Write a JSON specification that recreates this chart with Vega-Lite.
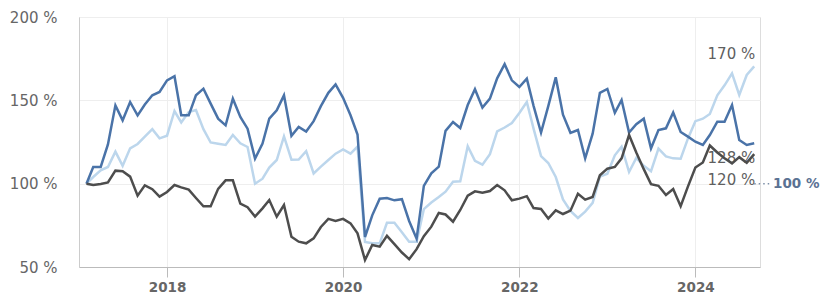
{
"$schema": "https://vega.github.io/schema/vega-lite/v6.json",
"width": 681, "height": 250,
"autosize": {"type": "none"},
"padding": {"left": 79, "top": 17, "right": 61, "bottom": 26},
"background": "white",
"config": {"view": {"stroke": "#dddddd"}, "font": "DejaVu Sans"},
"datasets": {
"a": [
{"t":"2017-02-01","v":100},{"t":"2017-03-01","v":110},{"t":"2017-04-01","v":110},{"t":"2017-05-01","v":123.5},{"t":"2017-06-01","v":147},{"t":"2017-07-01","v":138},{"t":"2017-08-01","v":149},{"t":"2017-09-01","v":141},{"t":"2017-10-01","v":147.5},{"t":"2017-11-01","v":153},{"t":"2017-12-01","v":155},
{"t":"2018-01-01","v":162},{"t":"2018-02-01","v":164.5},{"t":"2018-03-01","v":141},{"t":"2018-04-01","v":141},{"t":"2018-05-01","v":153},{"t":"2018-06-01","v":157},{"t":"2018-07-01","v":148},{"t":"2018-08-01","v":139},{"t":"2018-09-01","v":135},{"t":"2018-10-01","v":151},{"t":"2018-11-01","v":140},{"t":"2018-12-01","v":133},
{"t":"2019-01-01","v":115},{"t":"2019-02-01","v":124},{"t":"2019-03-01","v":139},{"t":"2019-04-01","v":144},{"t":"2019-05-01","v":153},{"t":"2019-06-01","v":128.7},{"t":"2019-07-01","v":134},{"t":"2019-08-01","v":131.3},{"t":"2019-09-01","v":137.5},{"t":"2019-10-01","v":146.5},{"t":"2019-11-01","v":154.5},{"t":"2019-12-01","v":159.5},
{"t":"2020-01-01","v":151.5},{"t":"2020-02-01","v":141},{"t":"2020-03-01","v":129.5},{"t":"2020-04-01","v":68},{"t":"2020-05-01","v":81},{"t":"2020-06-01","v":91},{"t":"2020-07-01","v":91.4},{"t":"2020-08-01","v":90},{"t":"2020-09-01","v":90.7},{"t":"2020-10-01","v":77.6},{"t":"2020-11-01","v":67},{"t":"2020-12-01","v":98.7},
{"t":"2021-01-01","v":106.2},{"t":"2021-02-01","v":110.2},{"t":"2021-03-01","v":131.7},{"t":"2021-04-01","v":137},{"t":"2021-05-01","v":133.4},{"t":"2021-06-01","v":147.2},{"t":"2021-07-01","v":156.7},{"t":"2021-08-01","v":145.6},{"t":"2021-09-01","v":151},{"t":"2021-10-01","v":163.2},{"t":"2021-11-01","v":171.7},{"t":"2021-12-01","v":162},
{"t":"2022-01-01","v":158},{"t":"2022-02-01","v":163},{"t":"2022-03-01","v":146.7},{"t":"2022-04-01","v":130.7},{"t":"2022-05-01","v":146.5},{"t":"2022-06-01","v":163.8},{"t":"2022-07-01","v":141.4},{"t":"2022-08-01","v":130.5},{"t":"2022-09-01","v":132.2},{"t":"2022-10-01","v":115.2},{"t":"2022-11-01","v":130},{"t":"2022-12-01","v":154.5},
{"t":"2023-01-01","v":156.8},{"t":"2023-02-01","v":142.5},{"t":"2023-03-01","v":150.2},{"t":"2023-04-01","v":130.7},{"t":"2023-05-01","v":135.7},{"t":"2023-06-01","v":139},{"t":"2023-07-01","v":121.2},{"t":"2023-08-01","v":132.2},{"t":"2023-09-01","v":133.2},{"t":"2023-10-01","v":142.7},{"t":"2023-11-01","v":131},{"t":"2023-12-01","v":128.2},
{"t":"2024-01-01","v":125.2},{"t":"2024-02-01","v":123.2},{"t":"2024-03-01","v":129.2},{"t":"2024-04-01","v":137.2},{"t":"2024-05-01","v":137.2},{"t":"2024-06-01","v":147.2},{"t":"2024-07-01","v":126.2},{"t":"2024-08-01","v":123.2},{"t":"2024-09-01","v":124.2}
],
"b": [
{"t":"2017-02-01","v":100},{"t":"2017-03-01","v":104},{"t":"2017-04-01","v":108},{"t":"2017-05-01","v":110},{"t":"2017-06-01","v":119.2},{"t":"2017-07-01","v":110.7},{"t":"2017-08-01","v":121.2},{"t":"2017-09-01","v":123.8},{"t":"2017-10-01","v":128.2},{"t":"2017-11-01","v":132.7},{"t":"2017-12-01","v":127.2},
{"t":"2018-01-01","v":128.8},{"t":"2018-02-01","v":143.6},{"t":"2018-03-01","v":136.7},{"t":"2018-04-01","v":143},{"t":"2018-05-01","v":144.2},{"t":"2018-06-01","v":132.7},{"t":"2018-07-01","v":124.7},{"t":"2018-08-01","v":123.9},{"t":"2018-09-01","v":123.2},{"t":"2018-10-01","v":129.2},{"t":"2018-11-01","v":124.2},{"t":"2018-12-01","v":122},
{"t":"2019-01-01","v":100},{"t":"2019-02-01","v":103},{"t":"2019-03-01","v":109.7},{"t":"2019-04-01","v":114.2},{"t":"2019-05-01","v":128.4},{"t":"2019-06-01","v":114.4},{"t":"2019-07-01","v":114.5},{"t":"2019-08-01","v":119.5},{"t":"2019-09-01","v":106.1},{"t":"2019-10-01","v":110.2},{"t":"2019-11-01","v":114.2},{"t":"2019-12-01","v":118},
{"t":"2020-01-01","v":120.5},{"t":"2020-02-01","v":118},{"t":"2020-03-01","v":122.2},{"t":"2020-04-01","v":65},{"t":"2020-05-01","v":64.2},{"t":"2020-06-01","v":64.2},{"t":"2020-07-01","v":76.5},{"t":"2020-08-01","v":76.5},{"t":"2020-09-01","v":70.8},{"t":"2020-10-01","v":65.2},{"t":"2020-11-01","v":65.2},{"t":"2020-12-01","v":84.7},
{"t":"2021-01-01","v":88.7},{"t":"2021-02-01","v":92},{"t":"2021-03-01","v":95.2},{"t":"2021-04-01","v":101.2},{"t":"2021-05-01","v":101.4},{"t":"2021-06-01","v":122.5},{"t":"2021-07-01","v":113.7},{"t":"2021-08-01","v":111.4},{"t":"2021-09-01","v":117.7},{"t":"2021-10-01","v":131.4},{"t":"2021-11-01","v":133.7},{"t":"2021-12-01","v":136.4},
{"t":"2022-01-01","v":142.4},{"t":"2022-02-01","v":149},{"t":"2022-03-01","v":133},{"t":"2022-04-01","v":116.5},{"t":"2022-05-01","v":112.4},{"t":"2022-06-01","v":104},{"t":"2022-07-01","v":90.5},{"t":"2022-08-01","v":83.7},{"t":"2022-09-01","v":79.4},{"t":"2022-10-01","v":83.2},{"t":"2022-11-01","v":88.5},{"t":"2022-12-01","v":104.2},
{"t":"2023-01-01","v":106},{"t":"2023-02-01","v":117},{"t":"2023-03-01","v":122.2},{"t":"2023-04-01","v":107},{"t":"2023-05-01","v":115.5},{"t":"2023-06-01","v":110.7},{"t":"2023-07-01","v":107.5},{"t":"2023-08-01","v":121},{"t":"2023-09-01","v":116.4},{"t":"2023-10-01","v":115.2},{"t":"2023-11-01","v":115},{"t":"2023-12-01","v":127},
{"t":"2024-01-01","v":137.5},{"t":"2024-02-01","v":139},{"t":"2024-03-01","v":141.8},{"t":"2024-04-01","v":153},{"t":"2024-05-01","v":159},{"t":"2024-06-01","v":166.2},{"t":"2024-07-01","v":153.2},{"t":"2024-08-01","v":165.2},{"t":"2024-09-01","v":170.4}
],
"c": [
{"t":"2017-02-01","v":100},{"t":"2017-03-01","v":99.2},{"t":"2017-04-01","v":99.8},{"t":"2017-05-01","v":100.7},{"t":"2017-06-01","v":107.8},{"t":"2017-07-01","v":107.5},{"t":"2017-08-01","v":104.2},{"t":"2017-09-01","v":92.8},{"t":"2017-10-01","v":99},{"t":"2017-11-01","v":96.7},{"t":"2017-12-01","v":92.2},
{"t":"2018-01-01","v":95},{"t":"2018-02-01","v":99.2},{"t":"2018-03-01","v":97.8},{"t":"2018-04-01","v":96.4},{"t":"2018-05-01","v":91.4},{"t":"2018-06-01","v":86.4},{"t":"2018-07-01","v":86.4},{"t":"2018-08-01","v":96.9},{"t":"2018-09-01","v":102},{"t":"2018-10-01","v":102},{"t":"2018-11-01","v":88},{"t":"2018-12-01","v":85.9},
{"t":"2019-01-01","v":80.2},{"t":"2019-02-01","v":85.2},{"t":"2019-03-01","v":90.2},{"t":"2019-04-01","v":80.2},{"t":"2019-05-01","v":87.2},{"t":"2019-06-01","v":68.2},{"t":"2019-07-01","v":65.2},{"t":"2019-08-01","v":64.2},{"t":"2019-09-01","v":67.2},{"t":"2019-10-01","v":74},{"t":"2019-11-01","v":78.9},{"t":"2019-12-01","v":77.7},
{"t":"2020-01-01","v":78.9},{"t":"2020-02-01","v":76.2},{"t":"2020-03-01","v":70.2},{"t":"2020-04-01","v":54.2},{"t":"2020-05-01","v":63.2},{"t":"2020-06-01","v":62.2},{"t":"2020-07-01","v":68.7},{"t":"2020-08-01","v":63.7},{"t":"2020-09-01","v":58.7},{"t":"2020-10-01","v":54.7},{"t":"2020-11-01","v":60.7},{"t":"2020-12-01","v":68.5},
{"t":"2021-01-01","v":74.2},{"t":"2021-02-01","v":82.4},{"t":"2021-03-01","v":81.5},{"t":"2021-04-01","v":77.2},{"t":"2021-05-01","v":84.2},{"t":"2021-06-01","v":92.8},{"t":"2021-07-01","v":95.4},{"t":"2021-08-01","v":94.6},{"t":"2021-09-01","v":95.6},{"t":"2021-10-01","v":99.2},{"t":"2021-11-01","v":96},{"t":"2021-12-01","v":90},
{"t":"2022-01-01","v":91},{"t":"2022-02-01","v":92.5},{"t":"2022-03-01","v":85.4},{"t":"2022-04-01","v":84.8},{"t":"2022-05-01","v":79.1},{"t":"2022-06-01","v":84},{"t":"2022-07-01","v":81.8},{"t":"2022-08-01","v":83.8},{"t":"2022-09-01","v":93.9},{"t":"2022-10-01","v":90.4},{"t":"2022-11-01","v":92},{"t":"2022-12-01","v":105},
{"t":"2023-01-01","v":109},{"t":"2023-02-01","v":110},{"t":"2023-03-01","v":115.2},{"t":"2023-04-01","v":129.2},{"t":"2023-05-01","v":118.7},{"t":"2023-06-01","v":108.7},{"t":"2023-07-01","v":99.7},{"t":"2023-08-01","v":98.7},{"t":"2023-09-01","v":93.2},{"t":"2023-10-01","v":96.8},{"t":"2023-11-01","v":86.5},{"t":"2023-12-01","v":98.2},
{"t":"2024-01-01","v":109.7},{"t":"2024-02-01","v":112.7},{"t":"2024-03-01","v":122.9},{"t":"2024-04-01","v":118.7},{"t":"2024-05-01","v":115.2},{"t":"2024-06-01","v":112.2},{"t":"2024-07-01","v":115.9},{"t":"2024-08-01","v":112.5},{"t":"2024-09-01","v":117.7}
],
"labels": [
{"t":"2024-09-01","v":177.6,"label":"170 %"},
{"t":"2024-09-01","v":115.6,"label":"128 %"},
{"t":"2024-09-01","v":102.2,"label":"120 %"}
],
"ref": [
{"t":"2024-09-01","t2":"2024-11-14","v":100,"label":"100 %"}
]
},
"encoding": {
"x": {"field":"t","type":"temporal",
 "scale":{"type":"utc","domain":[{"year":2017,"month":1,"date":1,"utc":true},{"year":2024,"month":9,"date":25,"utc":true}]},
 "axis":{"title":null,"values":[{"year":2018,"month":1,"date":1,"utc":true},{"year":2020,"month":1,"date":1,"utc":true},{"year":2022,"month":1,"date":1,"utc":true},{"year":2024,"month":1,"date":1,"utc":true}],
  "format":"%Y","formatType":"utc","grid":true,"gridColor":"#eeeeee","domainColor":"#bbbbbb","tickColor":"#bbbbbb","tickSize":10,
  "labelFont":"DejaVu Sans","labelFontSize":13.5,"labelFontWeight":"bold","labelColor":"#666666","labelPadding":3}},
"y": {"field":"v","type":"quantitative","scale":{"domain":[50,200]},
 "axis":{"title":null,"values":[50,100,150,200],"labelExpr":"datum.value + ' %'","ticks":false,"domainColor":"#cccccc",
  "gridColor":"#eeeeee","labelPadding":22,"labelFont":"DejaVu Sans","labelFontSize":15,"labelColor":"#666666"}}
},
"layer": [
{"data":{"name":"labels"},"mark":{"type":"text","align":"right","baseline":"middle","fontSize":15,"color":"#5f5f5f","font":"DejaVu Sans","dx":1},
 "encoding":{"text":{"field":"label"}}},
{"data":{"name":"b"},"mark":{"type":"line","color":"#bcd6ec","strokeWidth":2.5},"encoding":{}},
{"data":{"name":"a"},"mark":{"type":"line","color":"#4a73a8","strokeWidth":2.5},"encoding":{}},
{"data":{"name":"c"},"mark":{"type":"line","color":"#4d4d4d","strokeWidth":2.5},"encoding":{}},
{"data":{"name":"ref"},"mark":{"type":"rule","strokeDash":[1.5,3],"color":"#7d90a8","strokeWidth":1.5},"encoding":{"x2":{"field":"t2"}}},
{"data":{"name":"ref"},"mark":{"type":"text","align":"left","baseline":"middle","fontSize":13.5,"fontWeight":"bold","color":"#5b7293","font":"DejaVu Sans","dx":1},
 "encoding":{"x":{"field":"t2","type":"temporal"},"text":{"field":"label"}}}
]
}
